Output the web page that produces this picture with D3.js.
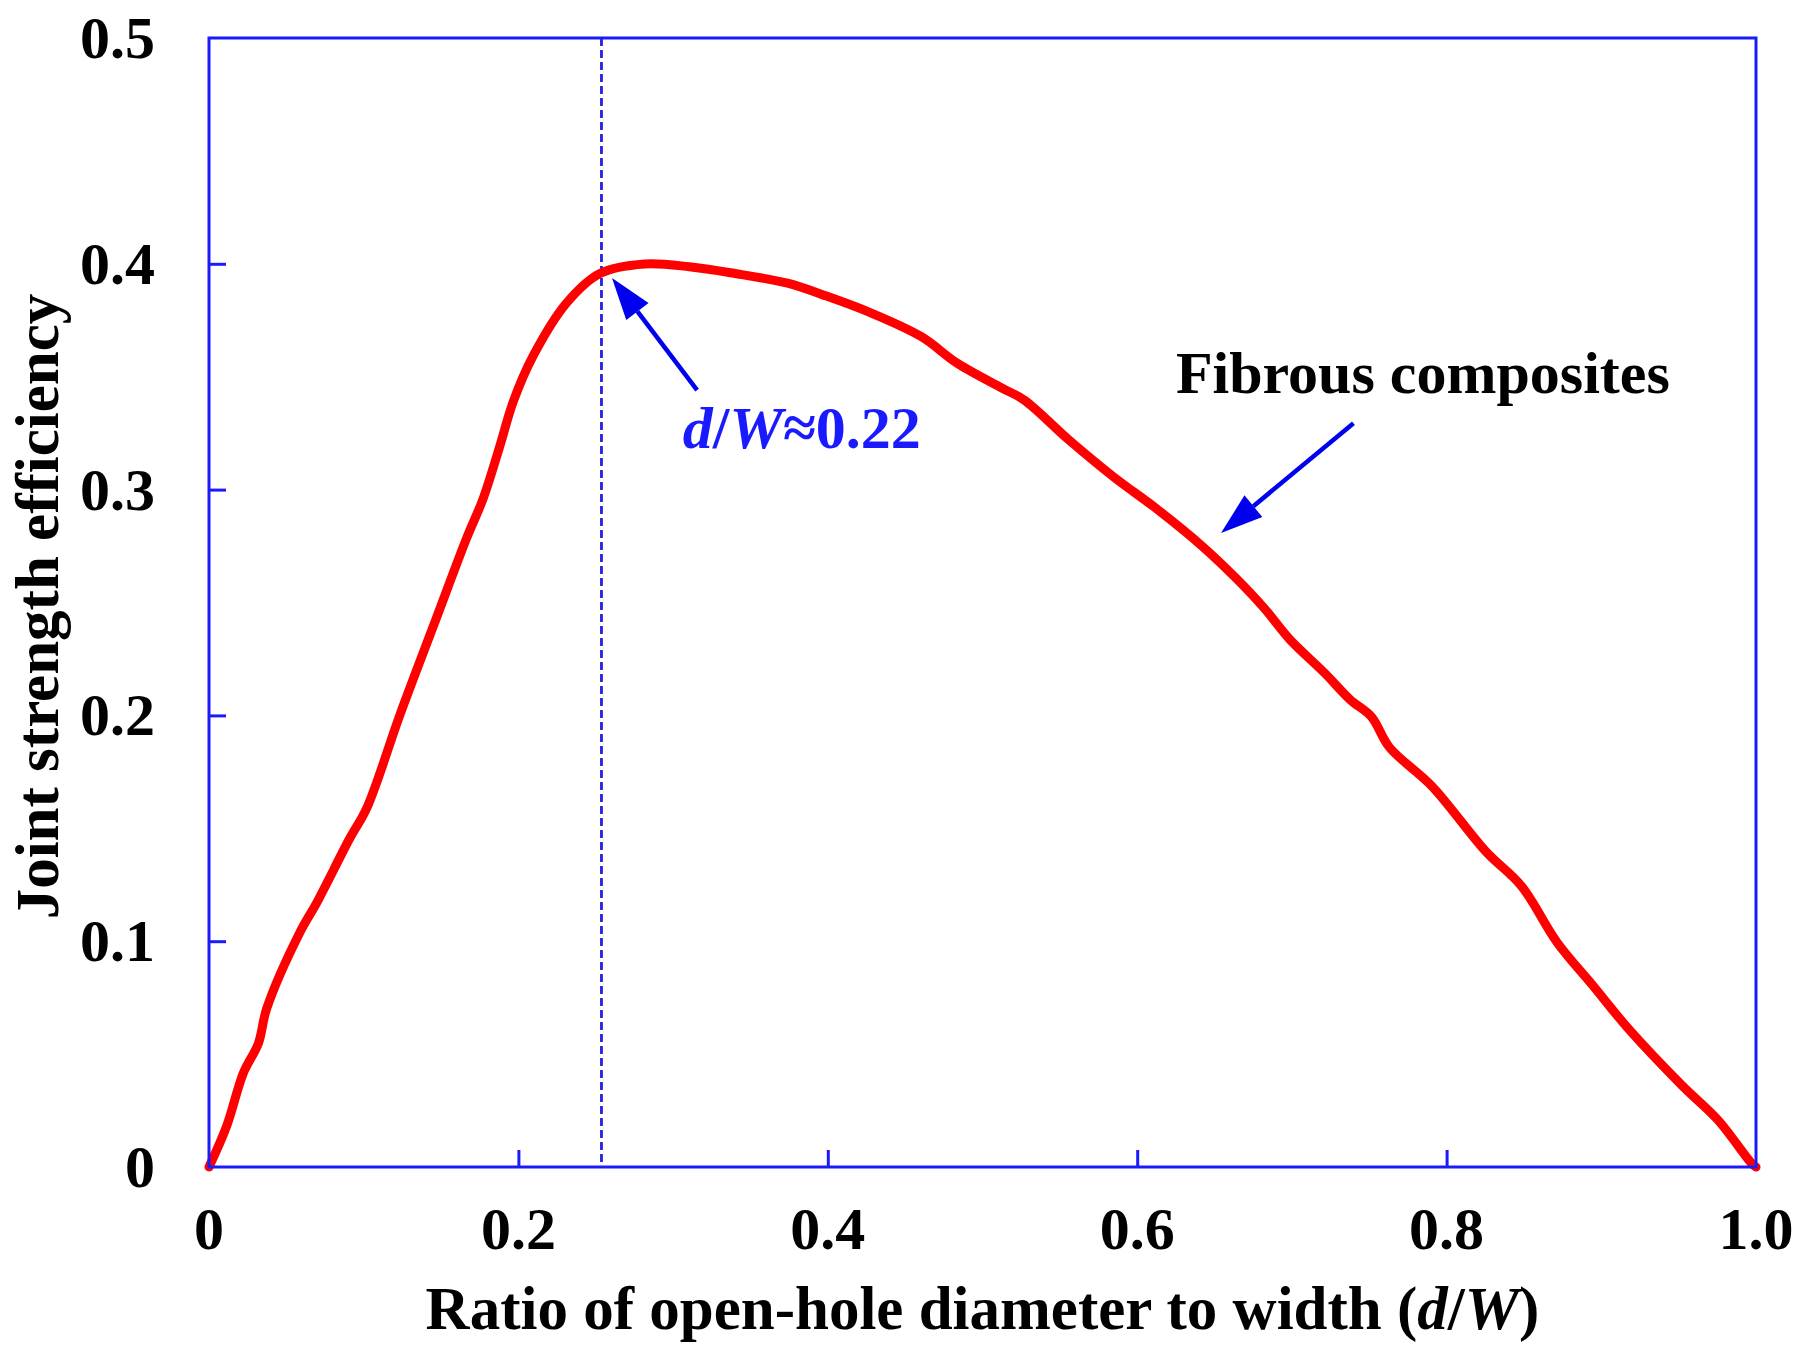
<!DOCTYPE html>
<html>
<head>
<meta charset="utf-8">
<script src="https://cdn.jsdelivr.net/npm/d3@7"></script>
<style>
  html, body { margin: 0; padding: 0; background: #fff; }
  svg text { font-family: "Liberation Serif", "Times New Roman", serif; font-weight: bold; }
</style>
</head>
<body>
<svg id="chart" width="1800" height="1368"></svg>
<script>
// curve
const ratio = [0, 0.0114, 0.0222, 0.0319, 0.0373, 0.0588, 0.0696, 0.0911, 0.1019, 0.1235,
  0.145, 0.1666, 0.1773, 0.1881, 0.1967, 0.2096, 0.2312, 0.2527, 0.2816, 0.3105,
  0.3393, 0.374, 0.397, 0.4259, 0.4605, 0.4836, 0.5125, 0.5269, 0.5558, 0.5846,
  0.6135, 0.6423, 0.6637, 0.6822, 0.6983, 0.7214, 0.7376, 0.7514, 0.763, 0.7906,
  0.8253, 0.8484, 0.8714, 0.8946, 0.9177, 0.9522, 0.9754, 0.9973, 1.0];
const efficiency = [0, 0.0181, 0.0416, 0.0547, 0.0702, 0.104, 0.117, 0.1457, 0.1588, 0.2004,
  0.2395, 0.2786, 0.2962, 0.3195, 0.339, 0.3593, 0.3827, 0.3957, 0.3999, 0.3987,
  0.3958, 0.3914, 0.3862, 0.3788, 0.3677, 0.356, 0.345, 0.3397, 0.322, 0.3057,
  0.291, 0.2748, 0.2609, 0.2474, 0.2339, 0.2186, 0.207, 0.1994, 0.1859, 0.1686,
  0.1398, 0.1244, 0.0995, 0.0803, 0.0611, 0.0361, 0.0208, 0.0015, 0];

const xTicks = [0, 0.2, 0.4, 0.6, 0.8, 1.0];
const xTickLabels = ["0", "0.2", "0.4", "0.6", "0.8", "1.0"];
const yTicks = [0, 0.1, 0.2, 0.3, 0.4, 0.5];
const yTickLabels = ["0", "0.1", "0.2", "0.3", "0.4", "0.5"];

const optimumRatio = 0.2537; // dashed line position

const svg = d3.select("#chart");
const blue = "#1a1aff";

const x = d3.scaleLinear().domain([0, 1]).range([209, 1756]);
const y = d3.scaleLinear().domain([0, 0.5]).range([1167, 38]);

// inward ticks, no labels (labels drawn below)
svg.append("g")
  .attr("transform", `translate(0,${y(0)})`)
  .call(d3.axisTop(x).tickValues(xTicks.slice(1, -1)).tickSize(17).tickFormat(""))
  .call(g => g.select(".domain").remove())
  .call(g => g.selectAll("line").attr("stroke", blue).attr("stroke-width", 3));

svg.append("g")
  .attr("transform", `translate(${x(0)},0)`)
  .call(d3.axisRight(y).tickValues(yTicks.slice(1, -1)).tickSize(17).tickFormat(""))
  .call(g => g.select(".domain").remove())
  .call(g => g.selectAll("line").attr("stroke", blue).attr("stroke-width", 3));

// tick labels
svg.append("g").selectAll("text")
  .data(xTicks)
  .join("text")
  .attr("x", d => x(d))
  .attr("y", 1249)
  .attr("text-anchor", "middle")
  .attr("font-size", 60)
  .text((d, i) => xTickLabels[i]);

svg.append("g").selectAll("text")
  .data(yTicks)
  .join("text")
  .attr("x", 155)
  .attr("y", d => y(d) + 20)
  .attr("text-anchor", "end")
  .attr("font-size", 60)
  .text((d, i) => yTickLabels[i]);

// dashed line at the optimum
svg.append("line")
  .attr("x1", x(optimumRatio)).attr("x2", x(optimumRatio))
  .attr("y1", y(0.5)).attr("y2", y(0))
  .attr("stroke", "#2222dd")
  .attr("stroke-width", 2.8)
  .attr("stroke-dasharray", "8,4");

// the curve
const line = d3.line()
  .x((d, i) => x(ratio[i]))
  .y(d => y(d))
  .curve(d3.curveCatmullRom.alpha(0.5));

svg.append("path")
  .datum(efficiency)
  .attr("fill", "none")
  .attr("stroke", "#ff0000")
  .attr("stroke-width", 9)
  .attr("stroke-linejoin", "round")
  .attr("stroke-linecap", "round")
  .attr("d", line);

// frame
svg.append("rect")
  .attr("x", x(0)).attr("y", y(0.5))
  .attr("width", x(1) - x(0)).attr("height", y(0) - y(0.5))
  .attr("fill", "none")
  .attr("stroke", blue)
  .attr("stroke-width", 3);

// arrows
function arrow(from, to) {
  const x1 = x(from[0]), y1 = y(from[1]);
  const x2 = x(to[0]), y2 = y(to[1]);
  const a = Math.atan2(y2 - y1, x2 - x1);
  const len = 42, half = 14;
  const bx = x2 - len * Math.cos(a), by = y2 - len * Math.sin(a);
  svg.append("line")
    .attr("x1", x1).attr("y1", y1).attr("x2", bx).attr("y2", by)
    .attr("stroke", "#0000ee").attr("stroke-width", 4.5);
  const pts = [
    [x2, y2],
    [bx + half * Math.sin(a), by - half * Math.cos(a)],
    [bx - half * Math.sin(a), by + half * Math.cos(a)]
  ];
  svg.append("polygon")
    .attr("points", pts.map(p => p.join(",")).join(" "))
    .attr("fill", "#0000ee");
}
arrow([0.3155, 0.3441], [0.2605, 0.3937]);
arrow([0.7398, 0.3294], [0.6542, 0.2808]);

// annotations
const opt = svg.append("text")
  .attr("x", x(0.3063)).attr("y", y(0.3184))
  .attr("font-size", 60)
  .attr("fill", blue);
opt.append("tspan").attr("font-style", "italic").text("d");
opt.append("tspan").text("/");
opt.append("tspan").attr("font-style", "italic").text("W");
opt.append("tspan").text("≈0.22");

svg.append("text")
  .attr("x", x(0.625)).attr("y", y(0.343))
  .attr("font-size", 60)
  .attr("fill", "#000")
  .text("Fibrous composites");

// axis titles
const xt = svg.append("text")
  .attr("x", (x(0) + x(1)) / 2).attr("y", 1329)
  .attr("text-anchor", "middle")
  .attr("font-size", 61);
xt.append("tspan").text("Ratio of open-hole diameter to width (");
xt.append("tspan").attr("font-style", "italic").text("d");
xt.append("tspan").text("/");
xt.append("tspan").attr("font-style", "italic").text("W");
xt.append("tspan").text(")");

svg.append("text")
  .attr("transform", `translate(58,${(y(0) + y(0.5)) / 2 + 4}) rotate(-90)`)
  .attr("text-anchor", "middle")
  .attr("font-size", 61)
  .text("Joint strength efficiency");
</script>
</body>
</html>
